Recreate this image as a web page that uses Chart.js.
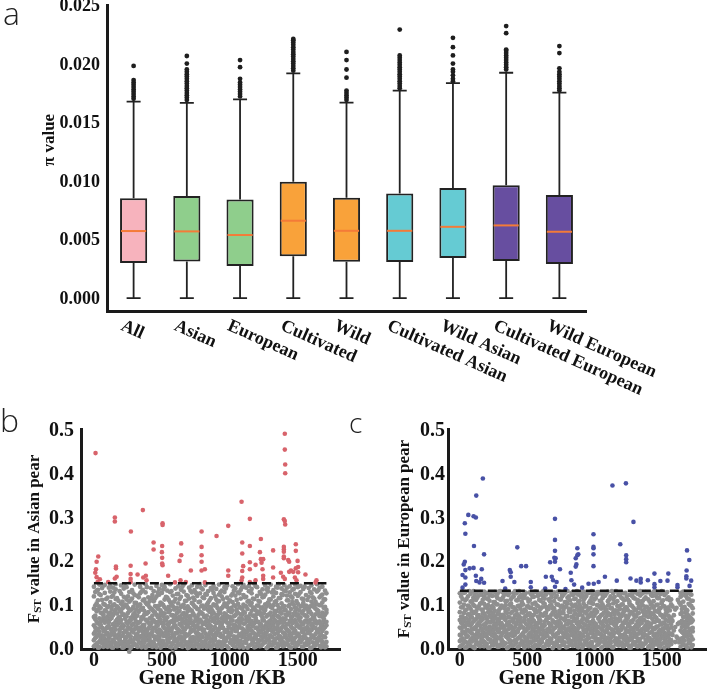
<!DOCTYPE html>
<html>
<head>
<meta charset="utf-8">
<script src="https://cdn.jsdelivr.net/npm/chart.js@4.4.1/dist/chart.umd.min.js"></script>
<style>
  body { margin: 0; background: #fff; }
  #wrap { position: relative; width: 710px; height: 689px; overflow: hidden; }
  canvas { position: absolute; }
  .tag { position: absolute; font-family: 'Open Sans', 'Noto Sans', sans-serif; font-weight: 300; color: #222; line-height: 1; }
</style>
</head>
<body>
<div id="wrap">
  <canvas id="piChart" width="710" height="445" style="left:0;top:0;width:710px;height:445px"></canvas>
  <canvas id="asianChart" width="350" height="289" style="left:0;top:400px;width:350px;height:289px"></canvas>
  <canvas id="euroChart" width="360" height="289" style="left:350px;top:400px;width:360px;height:289px"></canvas>
  <div class="tag" style="left:3px;top:-3px;font-size:32px">a</div>
  <div class="tag" style="left:0px;top:404px;font-size:32px">b</div>
  <div class="tag" style="left:349px;top:408px;font-size:28px">c</div>
</div>
<script>
// ============================================
// Panel a data - pi value box plots
// ============================================

const groups = ['All', 'Asian', 'European', 'Cultivated', 'Wild',
  'Cultivated Asian', 'Wild Asian', 'Cultivated European', 'Wild European'];
const whiskerLow = [0, 0, 0, 0, 0, 0, 0, 0, 0];
const q1 = [0.00299, 0.00313, 0.00273, 0.00358, 0.0031, 0.00307, 0.00341, 0.00316, 0.0029];
const median = [0.00572, 0.00569, 0.00538, 0.0066, 0.00574, 0.00574, 0.00608, 0.0062, 0.00566];
const q3 = [0.00851, 0.0087, 0.00842, 0.00992, 0.00856, 0.00893, 0.00939, 0.00962, 0.00879];
const whiskerHigh = [0.01675, 0.01666, 0.01695, 0.01917, 0.01667, 0.01769, 0.01834, 0.01922, 0.01752];
const boxColors = ['#f7b3bd', '#8fce8c', '#8fce8c', '#f9a23a', '#f9a23a', '#65cbd3', '#65cbd3', '#674ea0', '#674ea0'];
const piTicks = [0, 0.005, 0.01, 0.015, 0.02, 0.025];

// outliers above the upper whisker
const allOut = [0.0170, 0.0172, 0.0174, 0.0176, 0.0178, 0.0180, 0.0182, 0.0184, 0.0186, 0.0198];
const asianOut = [0.0169, 0.0171, 0.0173, 0.0175, 0.0177, 0.0179, 0.0181, 0.0183, 0.0185, 0.0187, 0.0189, 0.0191, 0.0193, 0.0195, 0.0200, 0.02065];
const europeanOut = [0.0172, 0.0174, 0.0176, 0.0178, 0.0180, 0.0182, 0.0184, 0.0187, 0.0197, 0.0203];
const cultivatedOut = [0.0194, 0.0196, 0.0198, 0.0200, 0.0202, 0.0204, 0.0206, 0.0208, 0.0210, 0.0212, 0.0214, 0.0216, 0.0218, 0.0220, 0.0221];
const wildOut = [0.0169, 0.0171, 0.0173, 0.0175, 0.0177, 0.0188, 0.0195, 0.0203, 0.0210];
const cultAsianOut = [0.0179, 0.0181, 0.0183, 0.0185, 0.0187, 0.0189, 0.0191, 0.0193, 0.0195, 0.0197, 0.0199, 0.0201, 0.0203, 0.0205, 0.0207, 0.0229];
const wildAsianOut = [0.0185, 0.0187, 0.0190, 0.0193, 0.0195, 0.0200, 0.0207, 0.0214, 0.0222];
const cultEuropeanOut = [0.0195, 0.0197, 0.0199, 0.0201, 0.0203, 0.0205, 0.0207, 0.0209, 0.0211, 0.0212, 0.0226, 0.0232];
const wildEuropeanOut = [0.0177, 0.0179, 0.0181, 0.0183, 0.0185, 0.0187, 0.0189, 0.0191, 0.0193, 0.0196, 0.0209, 0.0215];
const outlierLists = [allOut, asianOut, europeanOut, cultivatedOut, wildOut,
  cultAsianOut, wildAsianOut, cultEuropeanOut, wildEuropeanOut];

// ============================================
// Panel b / c data - Fst scans
// ============================================

// each row: [position KB, Fst values in thousandths ...]
const asianGrey = [
  [0, 4, 18, 33, 52, 71, 90, 118, 140], [20, 9, 26, 41, 60, 84, 102, 131, -20],
  [40, 2, 15, 37, 55, 68, 95, 123, 145], [60, 11, 29, 46, 63, 79, 110, 137, -12],
  [80, 6, 21, 39, 58, 86, 99, 126, 144], [100, 3, 17, 34, 49, 72, 93, 115, -45],
  [120, 13, 28, 44, 66, 81, 105, 129, 141], [140, 1, 19, 36, 54, 75, 97, 120, 138],
  [160, 8, 24, 42, 61, 88, 112, 134, 146], [180, 5, 22, 31, 57, 69, 91, 108, -30],
  [200, 10, 27, 48, 64, 83, 101, 124, 143], [220, 2, 14, 35, 51, 77, 94, 117, 136],
  [240, 7, 25, 40, 59, 73, 98, 111, 139], [260, 12, 30, 45, 62, 85, 106, 128, -8],
  [280, 4, 16, 38, 53, 70, 89, 113, 132], [300, 9, 23, 43, 67, 80, 103, 121, 145],
  [320, 3, 20, 32, 56, 74, 96, 119, -25], [340, 11, 26, 47, 60, 87, 100, 125, 140],
  [360, 6, 18, 37, 52, 71, 92, 109, 133], [380, 1, 24, 41, 65, 78, 104, 127, 146],
  [400, 8, 29, 44, 58, 82, 99, 116, -14], [420, 5, 15, 33, 55, 69, 90, 114, 137],
  [440, 13, 27, 46, 63, 84, 107, 130, -35], [460, 2, 21, 39, 50, 76, 95, 118, 142],
  [480, 10, 25, 42, 61, 72, 97, 122, 135], [500, 4, 17, 35, 57, 81, 101, 126, 144],
  [520, 7, 28, 45, 64, 79, 93, 111, 139], [540, 12, 19, 38, 54, 70, 88, 115, 131],
  [560, 3, 23, 40, 59, 86, 105, 128, 146], [580, 9, 30, 47, 62, 75, 96, 120, -10],
  [600, 1, 16, 34, 51, 73, 91, 112, 136], [620, 6, 22, 43, 66, 83, 102, 124, 141],
  [640, 11, 26, 37, 53, 68, 94, 117, 133], [660, 5, 20, 41, 60, 80, 99, 129, 145],
  [680, 8, 29, 48, 63, 77, 108, 121, -22], [700, 2, 14, 32, 56, 71, 90, 113, 138],
  [720, 13, 24, 39, 58, 85, 103, 127, 143], [740, 4, 18, 44, 61, 74, 95, 110, 132],
  [760, 10, 27, 36, 52, 69, 89, 119, 140], [780, 7, 21, 45, 65, 82, 106, 125, 146],
  [800, 3, 25, 40, 55, 78, 97, 116, 134], [820, 12, 17, 33, 59, 72, 92, 123, 144],
  [840, 6, 28, 46, 62, 87, 104, 130, -16], [860, 1, 19, 38, 50, 70, 93, 114, 137],
  [880, 9, 23, 42, 64, 81, 100, 126, 142], [900, 5, 30, 35, 57, 76, 98, 111, 135],
  [920, 11, 15, 43, 60, 84, 107, 122, 145], [940, 2, 26, 47, 53, 68, 91, 118, 131],
  [960, 8, 20, 37, 66, 79, 102, 128, 139], [980, 4, 24, 41, 58, 73, 94, 115, 143],
  [1000, 13, 29, 34, 54, 71, 88, 109, -40], [1020, 7, 18, 44, 63, 86, 105, 124, 141],
  [1040, 3, 22, 39, 51, 75, 96, 120, 136], [1060, 10, 27, 46, 61, 80, 101, 127, 146],
  [1080, 6, 16, 32, 59, 77, 92, 113, 133], [1100, 1, 25, 42, 56, 83, 99, 121, 144],
  [1120, 12, 21, 36, 65, 72, 95, 117, 138], [1140, 5, 28, 45, 52, 69, 108, 130, 142],
  [1160, 9, 19, 40, 62, 85, 103, 125, 135], [1180, 2, 24, 33, 57, 74, 90, 112, 147],
  [1200, 11, 30, 47, 60, 78, 97, 119, 139], [1220, 4, 17, 38, 55, 82, 106, 128, -18],
  [1240, 8, 23, 43, 64, 70, 93, 116, 134], [1260, 13, 26, 35, 50, 87, 100, 122, 143],
  [1280, 3, 20, 41, 58, 76, 104, 129, 137], [1300, 7, 29, 48, 63, 81, 94, 111, 145],
  [1320, 10, 15, 37, 53, 73, 98, 118, 132], [1340, 1, 22, 44, 61, 84, 107, 126, 140],
  [1360, 6, 27, 39, 56, 71, 91, 114, 146], [1380, 12, 18, 46, 66, 79, 102, 123, 136],
  [1400, 5, 25, 34, 59, 86, 96, 131, 144], [1420, 9, 21, 42, 54, 75, 109, 120, 138],
  [1440, 2, 28, 36, 62, 80, 99, 127, 141], [1460, 11, 16, 45, 57, 72, 105, 115, 133],
  [1480, 4, 24, 40, 64, 83, 92, 124, 145], [1500, 8, 30, 33, 51, 77, 101, 119, 139],
  [1520, 13, 19, 47, 60, 70, 95, 128, 142], [1540, 3, 26, 38, 55, 85, 103, 112, 135],
  [1560, 7, 22, 43, 63, 74, 97, 121, -28], [1580, 10, 17, 35, 58, 82, 90, 117, 137],
  [1600, 1, 29, 41, 52, 78, 106, 125, 143], [1620, 6, 23, 46, 65, 69, 93, 113, 134],
  [1640, 12, 20, 37, 56, 87, 100, 129, 146], [1660, 5, 27, 44, 61, 73, 98, 116, 138],
  [1680, 9, 15, 39, 53, 81, 104, 122, 140], [1700, 2, 25, 48, 59, 76, 94, 111, 131]
];
const asianGreyMid = [
  [10, 7, 23, 38, 47, 66, 74, 97, 128], [30, 1, 12, 30, 44, 57, 88, 109, 133],
  [50, 20, 27, 49, 53, 62, 81, 92, 121], [70, 3, 16, 25, 39, 70, 76, 101, 143],
  [90, 9, 14, 31, 45, 63, 67, 84, 112], [110, 6, 22, 28, 50, 59, 78, 96, 138],
  [130, 2, 10, 35, 41, 69, 74, 89, 117], [150, 15, 29, 33, 47, 56, 82, 100, 127],
  [170, 4, 11, 26, 52, 65, 79, 95, 114], [190, 18, 21, 37, 43, 60, 71, 87, 130],
  [210, 1, 13, 29, 46, 54, 76, 91, 106], [230, 8, 19, 24, 40, 67, 73, 99, 141],
  [250, 5, 15, 33, 48, 57, 80, 92, 118], [270, 0, 20, 27, 44, 63, 69, 86, 109],
  [290, 11, 17, 36, 42, 55, 77, 94, 125], [310, 6, 24, 30, 49, 61, 72, 88, 103],
  [330, 14, 22, 39, 45, 58, 83, 97, 116], [350, 2, 9, 28, 41, 66, 70, 91, 129],
  [370, 12, 26, 34, 47, 53, 76, 85, 111], [390, 4, 18, 31, 38, 62, 79, 100, 139],
  [410, 16, 23, 29, 50, 57, 68, 93, 107], [430, 3, 10, 37, 43, 64, 74, 87, 121],
  [450, 7, 21, 26, 46, 59, 81, 96, 113], [470, 19, 25, 35, 52, 60, 71, 90, 127],
  [490, 1, 14, 32, 40, 65, 78, 86, 104], [510, 9, 16, 28, 49, 56, 73, 98, 134],
  [530, 5, 27, 36, 44, 63, 69, 89, 117], [550, 13, 20, 31, 47, 54, 82, 94, 110],
  [570, 2, 11, 38, 42, 61, 75, 99, 130], [590, 17, 24, 30, 51, 58, 67, 88, 106],
  [610, 6, 15, 34, 45, 64, 80, 92, 123], [630, 10, 22, 27, 39, 55, 72, 85, 112],
  [650, 3, 18, 36, 48, 62, 77, 97, 140], [670, 14, 26, 33, 43, 57, 70, 91, 108],
  [690, 0, 12, 29, 50, 60, 84, 95, 119], [710, 8, 21, 37, 46, 66, 73, 87, 131],
  [730, 4, 17, 25, 41, 53, 79, 100, 115], [750, 11, 23, 35, 49, 63, 68, 93, 126],
  [770, 1, 19, 32, 44, 58, 76, 89, 105], [790, 15, 28, 30, 47, 61, 81, 96, 137],
  [810, 7, 13, 38, 42, 56, 71, 90, 114], [830, 2, 20, 26, 52, 65, 74, 99, 122],
  [850, 12, 24, 34, 45, 54, 83, 94, 109], [870, 5, 16, 31, 40, 62, 78, 86, 133],
  [890, 18, 22, 29, 48, 59, 69, 97, 118], [910, 3, 10, 36, 43, 67, 75, 91, 107],
  [930, 9, 27, 33, 50, 55, 80, 88, 128], [950, 6, 14, 28, 46, 60, 72, 95, 112],
  [970, 16, 21, 37, 41, 64, 77, 100, 136], [990, 0, 25, 30, 49, 57, 70, 85, 104],
  [1010, 11, 19, 35, 44, 63, 82, 92, 120], [1030, 4, 12, 27, 47, 53, 73, 98, 131],
  [1050, 14, 23, 39, 42, 61, 79, 87, 110], [1070, 2, 17, 32, 51, 58, 68, 94, 125],
  [1090, 8, 26, 34, 45, 66, 76, 90, 139], [1110, 13, 15, 29, 40, 56, 81, 96, 116],
  [1130, 1, 20, 38, 48, 62, 71, 89, 106], [1150, 7, 24, 31, 43, 59, 78, 99, 129],
  [1170, 17, 11, 36, 50, 55, 74, 93, 113], [1190, 3, 22, 26, 46, 65, 69, 86, 141],
  [1210, 10, 18, 33, 41, 60, 83, 97, 108], [1230, 5, 27, 37, 49, 54, 75, 91, 123],
  [1250, 15, 13, 30, 44, 63, 80, 88, 117], [1270, 0, 21, 35, 47, 57, 72, 95, 134],
  [1290, 9, 16, 28, 52, 61, 77, 100, 111], [1310, 6, 25, 39, 42, 58, 70, 92, 127],
  [1330, 12, 19, 32, 45, 64, 79, 85, 105], [1350, 2, 10, 34, 48, 56, 73, 98, 138],
  [1370, 18, 23, 27, 43, 62, 82, 90, 114], [1390, 4, 14, 36, 50, 59, 68, 94, 121],
  [1410, 11, 26, 31, 46, 66, 76, 87, 130], [1430, 7, 17, 38, 40, 55, 81, 96, 109],
  [1450, 1, 22, 29, 49, 63, 71, 89, 118], [1470, 14, 20, 35, 44, 60, 78, 99, 135],
  [1490, 5, 12, 33, 51, 57, 74, 91, 107], [1510, 16, 28, 26, 47, 65, 69, 86, 124],
  [1530, 3, 19, 37, 42, 54, 80, 97, 113], [1550, 10, 24, 30, 45, 61, 75, 93, 140],
  [1570, 8, 15, 34, 48, 58, 72, 88, 110], [1590, 0, 21, 39, 43, 64, 83, 95, 128],
  [1610, 13, 27, 28, 50, 56, 70, 100, 116], [1630, 6, 11, 32, 46, 62, 77, 90, 106],
  [1650, 17, 23, 36, 41, 59, 79, 85, 132], [1670, 2, 18, 31, 49, 55, 73, 98, 119],
  [1690, 9, 25, 27, 44, 63, 68, 92, 111], [1710, 4, 14, 35, 52, 60, 81, 87, 125]
];

const asianHigh = [
  [12, 0.445], [32, 0.209], [20, 0.197], [15, 0.180], [10, 0.172], [20, 0.162], [44, 0.157], [27, 0.151],
  [154, 0.298], [154, 0.289], [162, 0.186], [162, 0.182], [167, 0.163], [154, 0.159], [105, 0.151],
  [272, 0.266], [270, 0.188], [270, 0.169], [270, 0.158], [270, 0.151], [321, 0.168],
  [360, 0.315], [380, 0.193], [382, 0.165], [363, 0.161], [387, 0.155],
  [439, 0.241], [439, 0.225],
  [505, 0.285], [505, 0.281], [502, 0.233], [500, 0.219], [502, 0.206], [502, 0.193], [505, 0.189],
  [546, 0.165], [596, 0.150],
  [642, 0.239], [642, 0.212], [630, 0.199], [637, 0.155], [676, 0.151], [713, 0.177],
  [792, 0.266], [792, 0.231], [792, 0.212], [792, 0.197], [792, 0.177], [816, 0.180], [816, 0.150],
  [902, 0.256], [988, 0.279], [988, 0.177], [988, 0.165],
  [1086, 0.334], [1091, 0.241], [1091, 0.216], [1098, 0.187], [1091, 0.176], [1091, 0.161], [1086, 0.155],
  [1147, 0.295], [1147, 0.233], [1147, 0.196], [1147, 0.180], [1147, 0.151],
  [1189, 0.190], [1189, 0.155],
  [1228, 0.249], [1221, 0.219], [1228, 0.203], [1245, 0.203], [1233, 0.195], [1240, 0.180], [1245, 0.165], [1245, 0.158],
  [1318, 0.223], [1318, 0.184], [1318, 0.161],
  [1404, 0.489], [1404, 0.453], [1407, 0.419], [1407, 0.399], [1397, 0.294], [1404, 0.290], [1407, 0.282],
  [1397, 0.231], [1397, 0.225], [1397, 0.220], [1397, 0.209], [1397, 0.205], [1375, 0.172], [1392, 0.163], [1404, 0.158],
  [1429, 0.201], [1436, 0.197], [1436, 0.174], [1449, 0.177], [1466, 0.174],
  [1485, 0.237], [1485, 0.222], [1498, 0.199], [1502, 0.185], [1485, 0.182], [1502, 0.173], [1478, 0.161], [1490, 0.155],
  [1556, 0.168], [1637, 0.155], [1630, 0.150]
];
const asianCutoffX = [0, 1710];
const asianCutoff = 0.148;

const euroGrey = [
  [0, 3, 16, 30, 47, 64, 82, 104, 125], [20, 8, 22, 38, 55, 71, 93, 112, -25],
  [40, 1, 14, 33, 50, 68, 86, 109, 128], [60, 11, 27, 41, 59, 77, 97, 118, -60],
  [80, 5, 19, 36, 52, 73, 90, 106, 124], [100, 2, 24, 43, 61, 80, 99, 115, 130],
  [120, 9, 17, 31, 48, 66, 84, 110, 127], [140, 6, 28, 39, 57, 75, 95, 120, -15],
  [160, 12, 21, 45, 63, 70, 88, 103, 122], [180, 4, 15, 34, 53, 79, 101, 117, 129],
  [200, 10, 26, 42, 58, 67, 92, 113, 126], [220, 1, 20, 37, 49, 74, 87, 108, 121],
  [240, 7, 29, 44, 62, 81, 96, 119, -30], [260, 13, 18, 32, 56, 72, 85, 105, 128],
  [280, 3, 23, 40, 60, 78, 100, 114, 124], [300, 8, 25, 46, 54, 69, 91, 111, 130],
  [320, 5, 14, 35, 51, 76, 94, 116, 127], [340, 11, 27, 38, 64, 83, 98, 107, 123],
  [360, 2, 21, 43, 57, 71, 89, 121, 129], [380, 9, 16, 33, 50, 80, 102, 112, -20],
  [400, 6, 28, 41, 59, 68, 93, 118, 126], [420, 12, 19, 36, 55, 77, 86, 109, 125],
  [440, 4, 24, 45, 61, 73, 97, 115, 130], [460, 10, 17, 31, 48, 82, 99, 106, 122],
  [480, 1, 26, 39, 63, 70, 88, 120, 128], [500, 7, 22, 44, 53, 75, 95, 113, -12],
  [520, 13, 15, 34, 58, 79, 92, 110, 127], [540, 3, 29, 42, 60, 66, 101, 117, 124],
  [560, 8, 20, 37, 52, 84, 87, 104, 129], [580, 5, 25, 46, 56, 72, 96, 119, 121],
  [600, 11, 18, 32, 62, 78, 90, 108, 126], [620, 2, 23, 40, 49, 74, 103, 114, 130],
  [640, 9, 27, 35, 64, 81, 94, 122, 125], [660, 6, 14, 43, 57, 69, 89, 111, 128],
  [680, 12, 21, 38, 51, 76, 98, 116, 123], [700, 4, 28, 45, 59, 83, 91, 107, 127],
  [720, 10, 16, 33, 54, 71, 100, 120, -35], [740, 1, 24, 41, 61, 77, 85, 112, 129],
  [760, 7, 19, 36, 48, 80, 97, 118, 124], [780, 13, 26, 44, 63, 67, 93, 105, 126],
  [800, 3, 22, 30, 55, 73, 102, 115, 130], [820, 8, 17, 39, 58, 82, 88, 109, -45],
  [840, 5, 29, 42, 50, 70, 95, 121, 128], [860, 11, 15, 35, 62, 78, 99, 113, 125],
  [880, 2, 25, 46, 53, 75, 86, 106, 122], [900, 9, 20, 31, 60, 84, 92, 117, 127],
  [920, 6, 27, 40, 56, 68, 101, 110, 129], [940, 12, 18, 37, 64, 79, 96, 119, 124],
  [960, 4, 23, 43, 52, 72, 90, 104, 126], [980, 10, 14, 34, 59, 81, 103, 116, 130],
  [1000, 1, 28, 45, 57, 74, 87, 111, -18], [1020, 7, 21, 38, 49, 83, 98, 122, 128],
  [1040, 13, 16, 32, 61, 71, 94, 108, 125], [1060, 3, 26, 41, 55, 77, 100, 114, 123],
  [1080, 8, 19, 36, 63, 69, 89, 120, 127], [1100, 5, 24, 44, 51, 80, 97, 107, 129],
  [1120, 11, 17, 33, 58, 75, 91, 118, -22], [1140, 2, 29, 39, 60, 82, 102, 112, 126],
  [1160, 9, 22, 46, 54, 67, 86, 105, 130], [1180, 6, 15, 35, 62, 78, 95, 121, 124],
  [1200, 12, 27, 42, 50, 73, 99, 115, 128], [1220, 4, 20, 31, 57, 84, 88, 109, 125],
  [1240, 10, 25, 40, 64, 70, 93, 117, -50], [1260, 1, 18, 37, 53, 76, 101, 106, 122],
  [1280, 7, 23, 45, 59, 81, 96, 119, 129], [1300, 13, 28, 34, 48, 72, 87, 113, 127],
  [1320, 3, 16, 43, 61, 79, 103, 110, 124], [1340, 8, 21, 38, 56, 68, 90, 120, 130],
  [1360, 5, 26, 30, 63, 83, 97, 108, 126], [1380, 11, 19, 41, 52, 74, 94, 116, 128],
  [1400, 2, 24, 46, 58, 71, 85, 111, -28], [1420, 9, 14, 36, 55, 80, 100, 122, 125],
  [1440, 6, 29, 44, 60, 77, 92, 107, 129], [1460, 12, 22, 33, 49, 69, 98, 118, 123],
  [1480, 4, 17, 39, 62, 82, 89, 114, 127], [1500, 10, 27, 42, 54, 75, 102, 105, 130],
  [1520, 1, 20, 35, 57, 73, 95, 121, 124], [1540, 7, 25, 45, 51, 84, 91, 112, 128],
  [1560, 13, 18, 32, 64, 70, 86, 109, -40], [1580, 30, 62, 95],
  [1600, 14, 48, 88], [1620, 22, 55, 110],
  [1640, 3, 16, 40, 58, 78, 99, 117, 126], [1660, 8, 23, 34, 53, 71, 93, 106, 129],
  [1680, 5, 28, 47, 61, 81, 88, 119, 125], [1700, 11, 19, 38, 56, 74, 101, 113, 127],
  [1720, 2, 26, 43, 59, 67, 96, 108, 122]
];
const euroGreyMid = [
  [10, 5, 20, 31, 45, 58, 72, 93, 118], [30, 12, 17, 36, 49, 62, 80, 99, 126],
  [50, 2, 25, 29, 41, 55, 68, 88, 112], [70, 8, 14, 38, 52, 65, 77, 95, 130],
  [90, 15, 22, 33, 44, 57, 70, 84, 107], [110, 0, 19, 27, 47, 63, 81, 96, 121],
  [130, 10, 24, 35, 40, 54, 74, 90, 115], [150, 4, 13, 30, 51, 60, 69, 101, 128],
  [170, 17, 26, 37, 43, 66, 79, 87, 110], [190, 7, 11, 28, 48, 56, 73, 94, 124],
  [210, 1, 21, 34, 46, 61, 82, 98, 113], [230, 14, 18, 32, 42, 59, 71, 89, 127],
  [250, 6, 27, 39, 50, 64, 76, 92, 105], [270, 11, 16, 26, 45, 53, 68, 100, 119],
  [290, 3, 23, 36, 41, 62, 78, 86, 129], [310, 16, 20, 30, 49, 57, 75, 97, 111],
  [330, 9, 12, 38, 44, 67, 72, 91, 122], [350, 0, 25, 33, 52, 55, 80, 88, 108],
  [370, 13, 19, 29, 46, 60, 70, 99, 125], [390, 5, 28, 35, 43, 63, 83, 94, 116],
  [410, 18, 15, 31, 48, 58, 74, 87, 130], [430, 2, 22, 37, 40, 66, 77, 96, 109],
  [450, 10, 26, 27, 51, 54, 69, 90, 120], [470, 7, 14, 34, 47, 61, 81, 100, 114],
  [490, 15, 21, 39, 42, 56, 73, 85, 126], [510, 4, 11, 30, 45, 64, 78, 95, 106],
  [530, 12, 24, 36, 50, 59, 71, 92, 123], [550, 1, 17, 28, 44, 62, 76, 89, 117],
  [570, 19, 27, 33, 49, 57, 82, 98, 128], [590, 6, 13, 38, 41, 65, 68, 86, 110],
  [610, 14, 20, 31, 46, 53, 75, 93, 121], [630, 3, 25, 35, 52, 60, 79, 101, 113],
  [650, 9, 16, 29, 43, 67, 72, 88, 127], [670, 17, 22, 37, 48, 55, 70, 97, 107],
  [690, 0, 12, 32, 40, 63, 81, 91, 124], [710, 11, 28, 26, 47, 58, 74, 84, 116],
  [730, 5, 18, 34, 51, 61, 77, 99, 129], [750, 16, 23, 39, 44, 56, 69, 94, 111],
  [770, 8, 10, 30, 49, 66, 80, 87, 122], [790, 2, 26, 36, 42, 54, 73, 96, 105],
  [810, 13, 19, 27, 45, 62, 83, 90, 118], [830, 7, 15, 33, 50, 59, 71, 100, 126],
  [850, 18, 24, 38, 46, 64, 76, 85, 112], [870, 4, 21, 29, 41, 57, 68, 93, 130],
  [890, 10, 14, 35, 52, 60, 79, 98, 108], [910, 1, 27, 31, 47, 65, 74, 89, 120],
  [930, 15, 17, 37, 43, 53, 82, 95, 115], [950, 6, 22, 28, 49, 61, 70, 86, 127],
  [970, 12, 11, 34, 44, 58, 77, 92, 109], [990, 3, 25, 39, 51, 63, 72, 101, 123],
  [1010, 17, 20, 30, 40, 55, 80, 88, 114], [1030, 9, 16, 36, 48, 67, 69, 97, 128],
  [1050, 0, 23, 32, 45, 56, 75, 90, 106], [1070, 14, 28, 26, 50, 62, 81, 94, 119],
  [1090, 5, 12, 38, 42, 59, 73, 87, 125], [1110, 11, 19, 33, 47, 64, 78, 99, 111],
  [1130, 2, 26, 29, 43, 57, 68, 91, 130], [1150, 16, 15, 35, 52, 54, 76, 85, 117],
  [1170, 8, 21, 37, 46, 60, 83, 96, 107], [1190, 13, 24, 31, 41, 66, 71, 89, 122],
  [1210, 4, 10, 28, 49, 58, 79, 100, 113], [1230, 18, 27, 34, 44, 63, 74, 93, 126],
  [1250, 7, 17, 39, 50, 55, 70, 86, 110], [1270, 1, 22, 30, 45, 61, 82, 98, 121],
  [1290, 12, 14, 36, 40, 65, 77, 92, 115], [1310, 6, 25, 27, 48, 53, 72, 88, 129],
  [1330, 15, 20, 33, 51, 62, 80, 95, 108], [1350, 3, 11, 38, 43, 57, 69, 101, 124],
  [1370, 10, 28, 32, 47, 64, 75, 87, 112], [1390, 17, 16, 29, 42, 59, 81, 94, 127],
  [1410, 5, 23, 35, 52, 56, 73, 90, 106], [1430, 0, 19, 37, 46, 67, 78, 97, 119],
  [1450, 14, 26, 31, 44, 60, 71, 85, 130], [1470, 8, 13, 28, 49, 63, 83, 99, 114],
  [1490, 2, 21, 34, 41, 54, 76, 91, 123], [1510, 11, 27, 39, 45, 58, 70, 96, 109],
  [1530, 16, 15, 30, 50, 65, 79, 88, 125], [1550, 4, 24, 36, 43, 61, 74, 93, 116],
  [1570, 9, 18, 33, 47, 55, 68, 100, 111], [1590, 40, 75],
  [1610, 26, 92], [1630, 13, 58, 104],
  [1650, 12, 22, 37, 48, 62, 81, 89, 120], [1670, 6, 17, 29, 40, 57, 72, 94, 128],
  [1690, 1, 26, 35, 51, 66, 77, 86, 113], [1710, 15, 11, 31, 44, 59, 70, 98, 124],
  [1730, 7, 20, 38, 46, 63, 79, 91, 108]
];

const euroHigh = [
  [171, 0.387], [122, 0.348], [63, 0.304], [102, 0.301], [119, 0.298], [37, 0.285], [41, 0.261], [105, 0.233], [180, 0.214],
  [37, 0.197], [29, 0.191], [73, 0.182], [41, 0.178], [102, 0.183], [163, 0.180], [20, 0.167], [119, 0.165], [41, 0.161],
  [122, 0.153], [146, 0.150], [159, 0.158], [180, 0.149], [41, 0.145], [20, 0.138],
  [427, 0.230], [456, 0.187], [492, 0.187], [371, 0.178], [378, 0.173], [378, 0.163], [317, 0.153], [405, 0.151],
  [337, 0.136], [527, 0.151], [527, 0.139], [639, 0.163], [634, 0.136],
  [707, 0.295], [707, 0.247], [707, 0.222], [702, 0.206], [712, 0.205], [707, 0.197], [671, 0.196], [683, 0.163],
  [693, 0.155], [719, 0.151], [744, 0.180], [707, 0.140], [785, 0.135],
  [873, 0.228], [873, 0.212], [861, 0.205], [866, 0.191], [861, 0.186], [824, 0.172], [829, 0.155], [849, 0.145], [880, 0.214],
  [909, 0.138], [956, 0.147], [995, 0.147], [1031, 0.151],
  [993, 0.260], [993, 0.231], [993, 0.228], [993, 0.214], [993, 0.187], [1078, 0.163],
  [1134, 0.371], [1166, 0.154], [1192, 0.237], [1234, 0.376], [1236, 0.212], [1236, 0.203], [1236, 0.196], [1268, 0.159], [1290, 0.288],
  [1312, 0.154], [1344, 0.158], [1344, 0.150], [1397, 0.155], [1446, 0.170], [1446, 0.146], [1446, 0.139], [1490, 0.153],
  [1549, 0.170], [1543, 0.154], [1617, 0.144], [1617, 0.139],
  [1688, 0.223], [1705, 0.201], [1685, 0.177], [1683, 0.164], [1683, 0.159], [1719, 0.154], [1707, 0.142]
];
const euroCutoffX = [0, 1735];
const euroCutoff = 0.131;

const fstTicksX = [0, 500, 1000, 1500];
const fstTicksY = [0, 0.1, 0.2, 0.3, 0.4, 0.5];

// ============================================
// Shared helpers
// ============================================

const serifFace = "'Liberation Serif', 'Times New Roman', serif";
const ink = '#111';

function fixedTicks(values) {
  return function(scale) {
    scale.ticks = values.map(v => ({ value: v }));
  };
}

// left/alphabetic text, placed by measuring (align: left | right | center)
function textAt(ctx, text, x, y, align) {
  const w = ctx.measureText(text).width;
  const x0 = align === 'right' ? x - w : align === 'center' ? x - w / 2 : x;
  ctx.fillText(text, x0, y);
}

function prepText(ctx, size) {
  ctx.font = 'bold ' + size + 'px ' + serifFace;
  ctx.fillStyle = ink;
  ctx.textAlign = 'left';
  ctx.textBaseline = 'alphabetic';
}

function drawFstTitle(ctx, cx, cy, rest) {
  const big = 'bold 17px ' + serifFace;
  const small = 'bold 11px ' + serifFace;
  ctx.save();
  ctx.translate(cx, cy);
  ctx.rotate(-Math.PI / 2);
  ctx.fillStyle = ink;
  ctx.textAlign = 'left';
  ctx.textBaseline = 'alphabetic';
  ctx.font = big;
  const wF = ctx.measureText('F').width;
  const wR = ctx.measureText(rest).width;
  ctx.font = small;
  const wS = ctx.measureText('ST').width;
  let x0 = -(wF + wS + wR) / 2;
  const base = 6;
  ctx.font = big;
  ctx.fillText('F', x0, base);
  x0 += wF;
  ctx.font = small;
  ctx.fillText('ST', x0, base + 2);
  x0 += wS;
  ctx.font = big;
  ctx.fillText(rest, x0, base);
  ctx.restore();
}

// ============================================
// Panel a - box plot
// ============================================

const boxPlugin = {
  id: 'boxDecor',
  afterDatasetsDraw(chart) {
    const { ctx, scales: { x, y } } = chart;
    const bars = chart.getDatasetMeta(1).data;
    ctx.save();
    ctx.strokeStyle = '#222';
    ctx.lineWidth = 1.8;
    groups.forEach((g, i) => {
      const cx = x.getPixelForValue(i);
      ctx.beginPath();
      ctx.moveTo(cx, y.getPixelForValue(q3[i]));
      ctx.lineTo(cx, y.getPixelForValue(whiskerHigh[i]));
      ctx.moveTo(cx, y.getPixelForValue(q1[i]));
      ctx.lineTo(cx, y.getPixelForValue(whiskerLow[i]));
      [whiskerHigh[i], whiskerLow[i]].forEach(v => {
        const py = y.getPixelForValue(v);
        ctx.moveTo(cx - 7, py);
        ctx.lineTo(cx + 7, py);
      });
      ctx.stroke();
    });
    // median lines
    ctx.strokeStyle = '#f47b38';
    ctx.lineWidth = 2;
    groups.forEach((g, i) => {
      const b = bars[i];
      const py = y.getPixelForValue(median[i]);
      ctx.beginPath();
      ctx.moveTo(b.x - b.width / 2 + 1, py);
      ctx.lineTo(b.x + b.width / 2 - 1, py);
      ctx.stroke();
    });
    ctx.restore();
  },
  afterDraw(chart) {
    const { ctx, chartArea, scales: { x, y } } = chart;

    // y tick labels
    ctx.save();
    prepText(ctx, 18);
    piTicks.forEach(v => textAt(ctx, v.toFixed(3), chartArea.left - 7, y.getPixelForValue(v) + 6, 'right'));
    ctx.restore();

    // rotated category labels
    ctx.save();
    prepText(ctx, 18);
    ctx.textBaseline = 'top';
    groups.forEach((g, i) => {
      ctx.save();
      ctx.translate(x.getPixelForValue(i) - 8, chartArea.bottom + 6);
      ctx.rotate(24 * Math.PI / 180);
      ctx.fillText(g, 0, 0);
      ctx.restore();
    });
    ctx.restore();

    // y title
    ctx.save();
    ctx.translate(49, 140);
    ctx.rotate(-Math.PI / 2);
    prepText(ctx, 17);
    textAt(ctx, '\u03c0 value', 0, 5, 'center');
    ctx.restore();
  }
};

const outlierPoints = [];
outlierLists.forEach((list, i) => {
  list.forEach(v => outlierPoints.push({ x: groups[i], y: v }));
});

new Chart(document.getElementById('piChart'), {
  type: 'bar',
  data: {
    labels: groups,
    datasets: [
      {
        type: 'scatter',
        data: outlierPoints,
        pointRadius: 2.4,
        backgroundColor: '#1e1e1e',
        borderWidth: 0,
        order: 0
      },
      {
        data: groups.map((g, i) => [q1[i], q3[i]]),
        backgroundColor: boxColors,
        borderColor: '#222',
        borderWidth: 2,
        borderSkipped: false,
        barPercentage: 0.51,
        categoryPercentage: 1,
        order: 1
      }
    ]
  },
  options: {
    responsive: false,
    animation: false,
    layout: { padding: { top: 5, right: 124, left: 0, bottom: 0 } },
    plugins: { legend: { display: false }, tooltip: { enabled: false } },
    scales: {
      x: {
        grid: { display: false },
        border: { color: '#1a1a1a', width: 3 },
        ticks: { display: false },
        afterFit(scale) { scale.height = 445 - 311; }
      },
      y: {
        min: -0.0011,
        max: 0.025,
        grid: { display: false },
        border: { color: '#1a1a1a', width: 3 },
        afterBuildTicks: fixedTicks(piTicks),
        ticks: { display: false },
        afterFit(scale) { scale.width = 107; }
      }
    }
  },
  plugins: [boxPlugin]
});

// ============================================
// Panels b and c - Fst scatter
// ============================================

function makeFstChart(id, greyCols, highPts, cutX, cut, highColor, opts) {
  const grey = [];
  greyCols.forEach(col => {
    col.slice(1).forEach(v => grey.push({ x: col[0], y: v / 1000 }));
  });
  new Chart(document.getElementById(id), {
    type: 'scatter',
    data: {
      datasets: [
        {
          type: 'line',
          data: cutX.map(x => ({ x: x, y: cut })),
          borderColor: ink,
          borderWidth: 2.5,
          borderDash: [9, 5],
          pointRadius: 0,
          order: 0
        },
        {
          data: highPts.map(p => ({ x: p[0], y: p[1] })),
          backgroundColor: highColor,
          borderWidth: 0,
          pointRadius: 2.3,
          order: 1
        },
        {
          data: grey,
          backgroundColor: '#8f8f8f',
          borderWidth: 0,
          pointRadius: 2.4,
          clip: false,
          order: 2
        }
      ]
    },
    options: {
      responsive: false,
      animation: false,
      layout: { padding: { top: 29, right: opts.rightPad, left: 0, bottom: 0 } },
      plugins: { legend: { display: false }, tooltip: { enabled: false } },
      scales: {
        x: {
          type: 'linear',
          min: opts.xMin,
          max: opts.xMax,
          grid: { display: false },
          border: { color: '#1a1a1a', width: 3 },
          afterBuildTicks: fixedTicks(fstTicksX),
          ticks: { display: false },
          afterFit(scale) { scale.height = 40; }
        },
        y: {
          min: -0.002,
          max: 0.5,
          grid: { display: false },
          border: { color: '#1a1a1a', width: 3 },
          afterBuildTicks: fixedTicks(fstTicksY),
          ticks: { display: false },
          afterFit(scale) { scale.width = opts.axisWidth; }
        }
      }
    },
    plugins: [{
      id: 'fstText',
      afterDraw(chart) {
        const { ctx, chartArea: area, scales: { x, y } } = chart;
        ctx.save();
        prepText(ctx, 20);
        fstTicksY.forEach(v => textAt(ctx, v.toFixed(1), area.left - opts.tickGap, y.getPixelForValue(v) + 7, 'right'));
        fstTicksX.forEach(v => textAt(ctx, String(v), x.getPixelForValue(v), area.bottom + 17, 'center'));
        prepText(ctx, 21);
        textAt(ctx, 'Gene Rigon /KB', opts.xTitleX, area.bottom + 35, 'center');
        ctx.restore();
        drawFstTitle(ctx, opts.titleX, (area.top + area.bottom) / 2, opts.titleRest);
      }
    }]
  });
}

makeFstChart('asianChart', asianGrey.concat(asianGreyMid), asianHigh, asianCutoffX, asianCutoff, '#d8636b', {
  xMin: -95, xMax: 1810, axisWidth: 81, rightPad: 10, tickGap: 7,
  titleX: 33, xTitleX: 212, titleRest: ' value in Asian pear'
});
makeFstChart('euroChart', euroGrey.concat(euroGreyMid), euroHigh, euroCutoffX, euroCutoff, '#4851a6', {
  xMin: -88, xMax: 1829, axisWidth: 98, rightPad: 0, tickGap: 3,
  titleX: 53, xTitleX: 222, titleRest: ' value in European pear'
});
</script>
</body>
</html>
